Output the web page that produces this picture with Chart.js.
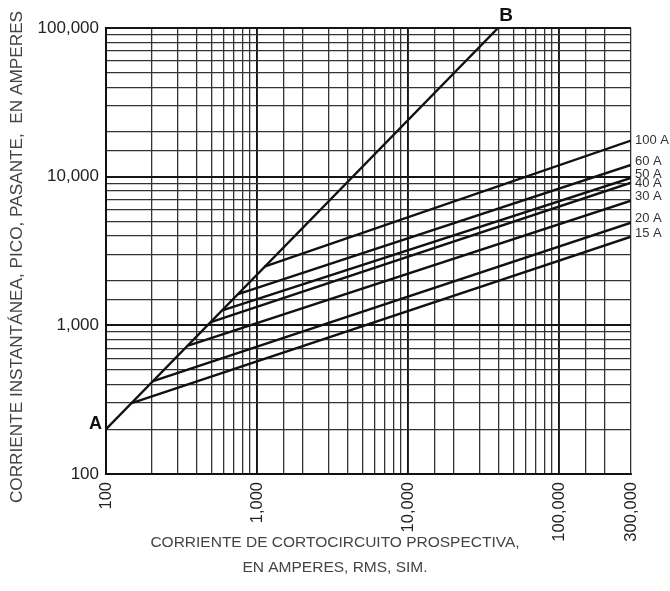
<!DOCTYPE html>
<html>
<head>
<meta charset="utf-8">
<script src="https://cdn.jsdelivr.net/npm/chart.js@4"></script>
<style>
  html, body { margin: 0; padding: 0; background: #fff; }
  #wrap { width: 670px; height: 591px; }
</style>
</head>
<body>
<div id="wrap"><canvas id="fuseChart"></canvas></div>
<script>
// A-B envelope line, [prospective current, peak let-through]
const lineAB = [[100, 200], [39500, 100000]];

// fuse curves: start point on the A-B line, end point at 300,000 A
const fuseRatings = ['100 A', '60 A', '50 A', '40 A', '30 A', '20 A', '15 A'];
const fuseStart = [[1120, 2480], [750, 1620], [590, 1260], [495, 1050], [350, 730], [205, 422], [148, 300]];
const fuseEnd = [[300000, 17500], [300000, 12000], [300000, 9800], [300000, 9100], [300000, 6900], [300000, 4900], [300000, 3950]];

const xTickLabels = [100, 1000, 10000, 100000, 300000];
const yTickLabels = [100, 1000, 10000, 100000];

const xTitle = ['CORRIENTE DE CORTOCIRCUITO PROSPECTIVA,', 'EN AMPERES, RMS, SIM.'];
const yTitle = 'CORRIENTE INSTANTÁNEA, PICO, PASANTE,  EN AMPERES';

const FONT = '"Liberation Sans", Arial, Helvetica, sans-serif';

const toPoints = (pairs) => pairs.map(([x, y]) => ({ x, y }));

const isListed = (list, v) => list.some((t) => Math.abs(t - v) < 1e-6 * t);
const isDecade = (v) => Math.abs(Math.log10(v) - Math.round(Math.log10(v))) < 1e-9;

const datasets = [{
  label: 'A-B',
  data: toPoints(lineAB),
}].concat(fuseRatings.map((name, i) => ({
  label: name,
  data: toPoints([fuseStart[i], fuseEnd[i]]),
}))).map((ds) => Object.assign(ds, {
  borderColor: '#111',
  borderWidth: 2.4,
  pointRadius: 0,
  tension: 0,
  fill: false,
}));

// nudges so the stacked labels on the right don't sit on top of each other
const labelNudge = [0, -3, -4, 1, -4, -4, -3];

const annotations = {
  id: 'annotations',
  afterDraw(chart) {
    const { ctx, scales: { x, y } } = chart;
    ctx.save();

    ctx.fillStyle = '#111';
    ctx.textBaseline = 'middle';
    ctx.font = 'bold 18px ' + FONT;
    ctx.textAlign = 'right';
    ctx.fillText('A', x.getPixelForValue(lineAB[0][0]) - 4, y.getPixelForValue(lineAB[0][1]) - 5);
    ctx.textAlign = 'center';
    ctx.font = 'bold 19px ' + FONT;
    ctx.fillText('B', x.getPixelForValue(lineAB[1][0]) + 8, y.getPixelForValue(lineAB[1][1]) - 12);

    ctx.fillStyle = '#333';
    ctx.font = '13px ' + FONT;
    ctx.textAlign = 'left';
    fuseRatings.forEach((name, i) => {
      const px = x.getPixelForValue(fuseEnd[i][0]) + 4;
      const py = y.getPixelForValue(fuseEnd[i][1]) + labelNudge[i];
      ctx.fillText(name, px, py);
    });

    ctx.fillStyle = '#444';
    ctx.font = '15.5px ' + FONT;
    ctx.textAlign = 'center';
    ctx.fillText(xTitle[0], 335, 543);
    ctx.fillText(xTitle[1], 335, 568);

    ctx.translate(17, 257);
    ctx.rotate(-Math.PI / 2);
    ctx.font = '17.2px ' + FONT;
    ctx.fillText(yTitle, 0, 0);

    ctx.restore();
  }
};

const gridStyle = {
  drawTicks: false,
  color: (c) => (c.tick && isDecade(c.tick.value) ? '#151515' : '#333'),
  lineWidth: (c) => (c.tick && isDecade(c.tick.value) ? 1.9 : 1.3),
};

const ctx = document.getElementById('fuseChart').getContext('2d');
new Chart(ctx, {
  type: 'line',
  data: { datasets },
  options: {
    responsive: true,
    maintainAspectRatio: false,
    animation: false,
    layout: { padding: { top: 28, right: 39, left: 0, bottom: 0 } },
    plugins: {
      legend: { display: false },
      tooltip: { enabled: false },
    },
    scales: {
      x: {
        type: 'logarithmic',
        min: 100,
        max: 300000,
        grid: gridStyle,
        border: { display: true, color: '#111', width: 2 },
        ticks: {
          autoSkip: false,
          minRotation: 90,
          maxRotation: 90,
          padding: 8,
          color: '#222',
          font: { family: FONT, size: 16.5 },
          callback: (v) => (isListed(xTickLabels, v) ? Math.round(v).toLocaleString('en-US') : ''),
        },
        afterFit: (scale) => { scale.height = 117; },
      },
      y: {
        type: 'logarithmic',
        min: 100,
        max: 100000,
        grid: gridStyle,
        border: { display: true, color: '#111', width: 2 },
        ticks: {
          autoSkip: false,
          padding: 7,
          color: '#222',
          font: { family: FONT, size: 17 },
          callback: (v) => (isListed(yTickLabels, v) ? Math.round(v).toLocaleString('en-US') : ''),
        },
        afterFit: (scale) => { scale.width = 106; },
      },
    },
  },
  plugins: [annotations],
});
</script>
</body>
</html>
